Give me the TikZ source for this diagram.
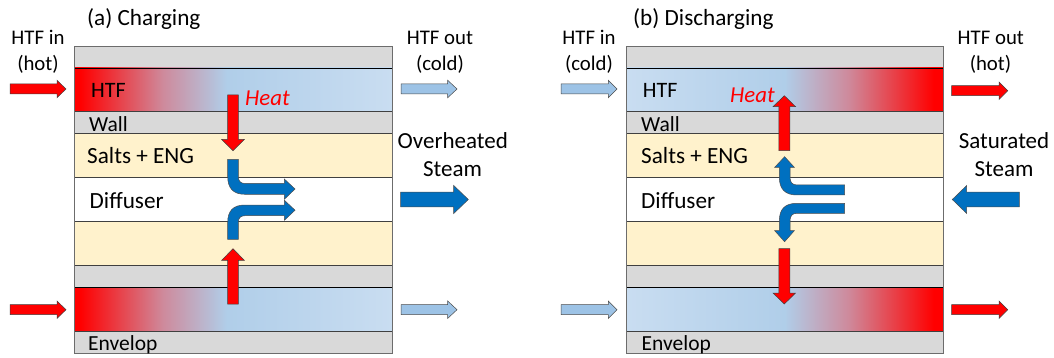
\documentclass[tikz,border=0pt]{standalone}
\usepackage{fontspec}
\setmainfont{Carlito}
\definecolor{wallgray}{HTML}{D9D9D9}
\definecolor{saltcol}{HTML}{FFF2CC}
\definecolor{coldblue}{HTML}{9DC3E6}
\definecolor{steamblue}{HTML}{0070C0}
\definecolor{midblue}{HTML}{B0CEE9}
\definecolor{paleblue}{HTML}{C9DDF1}
\definecolor{linegray}{HTML}{404040}
\definecolor{pinkmid}{HTML}{CE8A9C}
\pgfdeclarehorizontalshading{hotcold}{100bp}{
  color(0bp)=(red); color(25bp)=(red); color(26bp)=(red);
  color(39bp)=(pinkmid);
  color(49bp)=(midblue); color(75bp)=(paleblue); color(100bp)=(paleblue)}
\pgfdeclarehorizontalshading{coldhot}{100bp}{
  color(0bp)=(paleblue); color(25bp)=(paleblue); color(50bp)=(midblue);
  color(60bp)=(pinkmid);
  color(73.5bp)=(red); color(75bp)=(red); color(100bp)=(red)}
\tikzset{
  wallayer/.style={fill=wallgray,draw=linegray,line width=0.7pt},
  saltlayer/.style={fill=saltcol,draw=linegray,line width=0.7pt},
  difflayer/.style={fill=white,draw=linegray,line width=0.7pt},
  fluidline/.style={draw=black,line width=0.7pt},
  frameline/.style={draw=gray!85!black,line width=0.9pt},
  hotarrow/.style={fill=red,draw=black!75,line width=0.5pt,line join=miter},
  coldarrow/.style={fill=coldblue,draw=black!70,line width=0.5pt,line join=miter},
  steamarrow/.style={fill=steamblue,draw=black!70,line width=0.5pt,line join=miter},
  lab/.style={inner sep=0pt,anchor=base west,yshift=-1.2pt,font=\fontsize{23.2}{26}\selectfont,text=black},
  labs/.style={lab,font=\fontsize{21.5}{25}\selectfont},
  clab/.style={inner sep=0pt,anchor=base,yshift=-1.5pt,font=\fontsize{20.8}{25}\selectfont,text=black},
  blab/.style={inner sep=0pt,anchor=base,yshift=-1.2pt,font=\fontsize{23}{26}\selectfont,text=black},
  heatlab/.style={lab,text=red,font=\fontsize{22.8}{26}\selectfont\itshape}
}
% horizontal block arrow: #1 style, #2 x tail, #3 x head base, #4 x tip, #5 y, #6 half shaft, #7 half head
\newcommand\hblock[7]{\draw[#1] (#2,#5-#6) -- (#3,#5-#6) -- (#3,#5-#7) -- (#4,#5) -- (#3,#5+#7) -- (#3,#5+#6) -- (#2,#5+#6) -- cycle;}
% vertical block arrow: #1 style, #2 y tail, #3 y head base, #4 y tip, #5 x, #6 half shaft, #7 half head
\newcommand\vblock[7]{\draw[#1] (#5-#6,#2) -- (#5-#6,#3) -- (#5-#7,#3) -- (#5,#4) -- (#5+#7,#3) -- (#5+#6,#3) -- (#5+#6,#2) -- cycle;}
\begin{document}
\begin{tikzpicture}[x=1pt,y=-1pt]
\useasboundingbox (0,0) rectangle (1054,358);
\fill[white] (0,0) rectangle (1054,358);

% ---------- panel (a) ----------
\draw[wallayer] (74,46) rectangle (392,68);
\shade[shading=hotcold] (74,68) rectangle (392,111.5);
\draw[fluidline] (74,68) rectangle (392,111.5);
\draw[wallayer] (74,111.5) rectangle (392,133.5);
\draw[saltlayer] (74,133.5) rectangle (392,177.5);
\draw[difflayer] (74,177.5) rectangle (392,221.5);
\draw[saltlayer] (74,221.5) rectangle (392,265.5);
\draw[wallayer] (74,265.5) rectangle (392,287.5);
\shade[shading=hotcold] (74,287.5) rectangle (392,331.5);
\draw[fluidline] (74,287.5) rectangle (392,331.5);
\draw[wallayer] (74,331.5) rectangle (392,353.5);
\draw[frameline] (74,46) rectangle (392,353.5);

% ---------- panel (b) ----------
\draw[wallayer] (626,46) rectangle (943.3,68);
\shade[shading=coldhot] (626,68) rectangle (943.3,111.5);
\draw[fluidline] (626,68) rectangle (943.3,111.5);
\draw[wallayer] (626,111.5) rectangle (943.3,133.5);
\draw[saltlayer] (626,133.5) rectangle (943.3,177.5);
\draw[difflayer] (626,177.5) rectangle (943.3,221.5);
\draw[saltlayer] (626,221.5) rectangle (943.3,265.5);
\draw[wallayer] (626,265.5) rectangle (943.3,287.5);
\shade[shading=coldhot] (626,287.5) rectangle (943.3,331.5);
\draw[fluidline] (626,287.5) rectangle (943.3,331.5);
\draw[wallayer] (626,331.5) rectangle (943.3,353.5);
\draw[frameline] (626,46) rectangle (943.3,353.5);

% ---------- HTF arrows ----------
\hblock{hotarrow}{10}{57}{66}{89}{5}{8.7}
\hblock{coldarrow}{401}{447.7}{457}{89}{5}{8.7}
\hblock{hotarrow}{10}{57}{66}{309.7}{5}{8.7}
\hblock{coldarrow}{401}{447.7}{457}{309.7}{5}{8.7}
\hblock{coldarrow}{561}{608.3}{617}{89}{5}{8.7}
\hblock{hotarrow}{951.7}{999}{1007.7}{90.7}{5}{8.7}
\hblock{coldarrow}{561}{608.3}{617}{309.7}{5}{8.7}
\hblock{hotarrow}{951.7}{999}{1007.7}{309.7}{5}{8.7}

% ---------- steam arrows ----------
\hblock{steamarrow}{400.7}{453.7}{468.3}{199.5}{7.3}{14}
\hblock{steamarrow}{1019.3}{966.7}{952.3}{199.5}{7.3}{14}

% ---------- heat arrows ----------
\vblock{hotarrow}{95}{139.5}{150.7}{233}{5.4}{11.3}
\vblock{hotarrow}{304}{260.3}{248.7}{233}{5.4}{11.3}
\vblock{hotarrow}{150.7}{106.7}{95.7}{784.3}{5.5}{11.3}
\vblock{hotarrow}{248.7}{293}{304}{784.3}{5.5}{11.3}

% ---------- bent steam arrows (a) ----------
\draw[steamarrow] (227.7,159.3) -- (227.7,176.3) .. controls (227.7,188) and (233,194.3) .. (245,194.3)
  -- (284.3,194.3) -- (284.3,199.3) -- (295,189) -- (284.3,179) -- (284.3,183.5) -- (245,183.5)
  .. controls (240.5,183.5) and (238.3,181) .. (238.3,176.3) -- (238.3,159.3) -- cycle;
\draw[steamarrow] (227.7,239.3) -- (227.7,222.5) .. controls (227.7,211) and (233,205) .. (245,205)
  -- (284.3,205) -- (284.3,200.2) -- (295,210.2) -- (284.3,220.3) -- (284.3,215.7) -- (245,215.7)
  .. controls (240.5,215.7) and (238.3,218) .. (238.3,222.5) -- (238.3,239.3) -- cycle;

% ---------- bent steam arrows (b) ----------
\draw[steamarrow] (844.7,195) -- (797,195) .. controls (785,195) and (779.3,189) .. (779.3,177)
  -- (779.3,167.3) -- (774.7,167.3) -- (784.6,156.7) -- (794.3,167.3) -- (790,167.3) -- (790,177)
  .. controls (790,182) and (792,185) .. (797,185) -- (844.7,185) -- cycle;
\draw[steamarrow] (844.7,203.3) -- (797,203.3) .. controls (785,203.3) and (779.3,209) .. (779.3,221)
  -- (779.3,230.7) -- (774.7,230.7) -- (784.6,241.7) -- (794.3,230.7) -- (790,230.7) -- (790,221)
  .. controls (790,216) and (792,213.3) .. (797,213.3) -- (844.7,213.3) -- cycle;

% ---------- labels (a) ----------
\node[lab] (atitle) at (87,24.5) {(a) Charging};
\node[clab] (ain1) at (38,43) {HTF in};
\node[clab] (ain2) at (38,69) {(hot)};
\node[clab] (aout1) at (440,43) {HTF out};
\node[clab] (aout2) at (440,69) {(cold)};
\node[lab,font=\fontsize{22}{26}\selectfont] (ahtf) at (91,96.5) {HTF};
\node[heatlab] (aheat) at (245,104) {Heat};
\node[labs] (awall) at (89,130.7) {Wall};
\node[lab] (asalt) at (87,162) {Salts + ENG};
\node[lab] (adiff) at (89.5,207) {Diffuser};
\node[labs] (aenv) at (88,349.7) {Envelop};
\node[blab] (asteam1) at (452.8,147.5) {Overheated};
\node[blab] (asteam2) at (452.5,175.7) {Steam};

% ---------- labels (b) ----------
\node[lab] (btitle) at (633,24.5) {(b) Discharging};
\node[clab] (bin1) at (589,43) {HTF in};
\node[clab] (bin2) at (589,69) {(cold)};
\node[clab] (bout1) at (990.8,43) {HTF out};
\node[clab] (bout2) at (990.5,69) {(hot)};
\node[lab,font=\fontsize{22}{26}\selectfont] (bhtf) at (642.7,96.5) {HTF};
\node[heatlab] (bheat) at (730,101) {Heat};
\node[labs] (bwall) at (641,130.7) {Wall};
\node[lab] (bsalt) at (641,162) {Salts + ENG};
\node[lab] (bdiff) at (641,207) {Diffuser};
\node[labs] (benv) at (641.5,349.7) {Envelop};
\node[blab] (bsteam1) at (1004,147.5) {Saturated};
\node[blab] (bsteam2) at (1004,175.7) {Steam};
\end{tikzpicture}
\end{document}
